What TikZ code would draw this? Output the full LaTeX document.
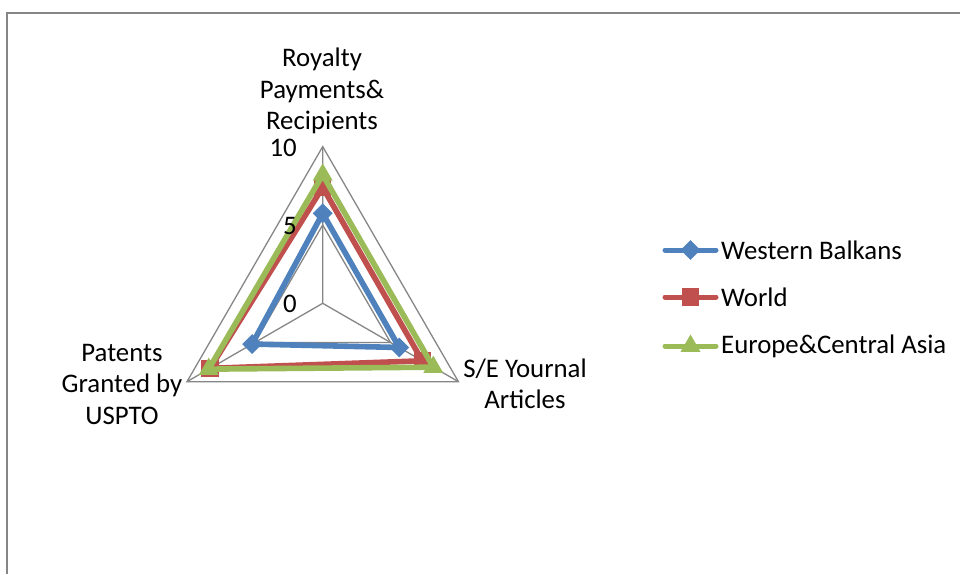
\documentclass[tikz,border=0pt]{standalone}
\usepackage{fontspec}
\setmainfont{Carlito}
\usetikzlibrary{shapes.geometric,calc}
\definecolor{wbblue}{HTML}{4F81BD}
\definecolor{wred}{HTML}{C0504D}
\definecolor{ecgreen}{HTML}{9BBB59}
\definecolor{gridgray}{HTML}{868686}
\begin{document}
\begin{tikzpicture}[x=1pt,y=-1pt,
  every node/.style={font=\fontsize{26.8}{31.5}\selectfont, text=black},
  grid/.style={draw=gridgray, line width=1.3pt},
  series/.style={line width=5.6pt, line join=round},
  wbmark/.style={shape=diamond, fill=wbblue, draw=none, inner sep=0pt, minimum size=20pt},
  wmark/.style={shape=rectangle, fill=wred, draw=none, inner sep=0pt, minimum size=17.5pt},
  ecmark/.style={shape=regular polygon, regular polygon sides=3, fill=ecgreen, draw=none, inner sep=0pt, minimum size=23pt},
  axislabel/.style={align=center, inner sep=0pt},
  ticklabel/.style={anchor=east, inner sep=0pt}]
\useasboundingbox (0,0) rectangle (960,574);

% chart frame
\draw[gridgray, line width=2pt] (7,574) -- (7,13) -- (960,13);

% radar axes and grid
\coordinate (O) at (322.7,303.3);
\coordinate (T) at ($(O)+(0,-156.7)$);
\coordinate (R) at ($(O)+(135.7,78.35)$);
\coordinate (L) at ($(O)+(-135.7,78.35)$);
\draw[grid] (O) -- (T) (O) -- (R) (O) -- (L);
\draw[grid] (T) -- (R) -- (L) -- cycle;
\draw[grid] ($(O)!0.5!(T)$) -- ($(O)!0.5!(R)$) -- ($(O)!0.5!(L)$) -- cycle;

% axis labels
\node[axislabel] (lroy) at (322,91) {Royalty\\Payments\&\\Recipients};
\node[axislabel] (lpat) at (122,384) {Patents\\Granted by\\USPTO};
\node[axislabel] (lsej) at (525,384) {S/E Yournal\\Articles};

% Western Balkans
\coordinate (wbT) at ($(O)!0.574!(T)$);
\coordinate (wbR) at ($(O)!0.564!(R)$);
\coordinate (wbL) at ($(O)!0.52!(L)$);
\draw[series, wbblue] (wbT) -- (wbR) -- (wbL) -- cycle;
\node[wbmark] (mwbT) at (wbT) {};
\node[wbmark] (mwbR) at (wbR) {};
\node[wbmark] (mwbL) at (wbL) {};

% World
\coordinate (wT) at ($(O)!0.74!(T)$);
\coordinate (wR) at ($(O)!0.734!(R)$);
\coordinate (wL) at ($(O)!0.83!(L)$);
\draw[series, wred] (wT) -- (wR) -- (wL) -- cycle;
\node[wmark] (mwT) at (wT) {};
\node[wmark] (mwR) at (wR) {};
\node[wmark] (mwL) at (wL) {};

% Europe & Central Asia
\coordinate (eT) at ($(O)!0.82!(T)$);
\coordinate (eR) at ($(O)!0.815!(R)$);
\coordinate (eL) at ($(O)!0.84!(L)$);
\draw[series, ecgreen] (eT) -- (eR) -- (eL) -- cycle;
\node[ecmark] (meT) at (eT) {};
\node[ecmark] (meR) at (eR) {};
\node[ecmark] (meL) at (eL) {};

% tick labels on top of the series
\node[ticklabel] (t10) at (297,148) {10};
\node[ticklabel] (t5) at (297,226) {5};
\node[ticklabel] (t0) at (297,304) {0};

% legend
\coordinate (g1a) at (665,250); \coordinate (g1b) at (716,250);
\coordinate (g2a) at (665,297); \coordinate (g2b) at (716,297);
\coordinate (g3a) at (665,346); \coordinate (g3b) at (716,346);
\draw[series, wbblue, line cap=round, line width=5pt] (g1a) -- (g1b);
\draw[series, wred, line cap=round, line width=5pt] (g2a) -- (g2b);
\draw[series, ecgreen, line cap=round, line width=5pt] (g3a) -- (g3b);
\node[wbmark] (k1) at ($(g1a)!0.5!(g1b)$) {};
\node[wmark] (k2) at ($(g2a)!0.5!(g2b)$) {};
\node[ecmark] (k3) at ($(g3a)!0.5!(g3b)$) {};
\node[anchor=west, inner sep=0pt] (n1) at (721,250) {Western Balkans};
\node[anchor=west, inner sep=0pt] (n2) at (721,297) {World};
\node[anchor=west, inner sep=0pt] (n3) at (721,346) {Europe\&Central Asia};
\end{tikzpicture}
\end{document}
